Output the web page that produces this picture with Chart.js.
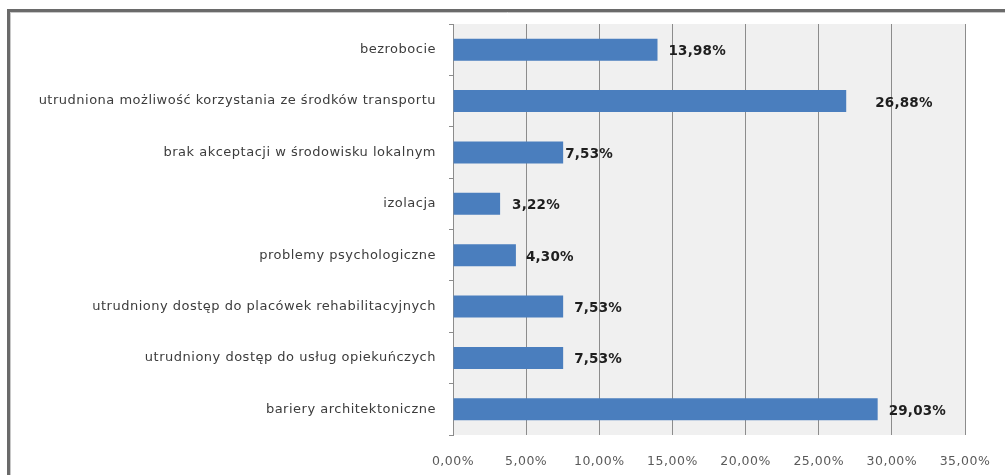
<!DOCTYPE html>
<html>
<head>
<meta charset="utf-8">
<script src="https://cdn.jsdelivr.net/npm/chart.js@4/dist/chart.umd.min.js"></script>
<style>
  html, body { margin: 0; padding: 0; background: #ffffff; }
  #wrap { width: 1005px; height: 475px; position: relative; }
</style>
</head>
<body>
<div id="wrap"><canvas id="c" width="1005" height="475"></canvas></div>
<script>
const categories = [
  "bezrobocie",
  "utrudniona możliwość korzystania ze środków transportu",
  "brak akceptacji w środowisku lokalnym",
  "izolacja",
  "problemy psychologiczne",
  "utrudniony dostęp do placówek rehabilitacyjnych",
  "utrudniony dostęp do usług opiekuńczych",
  "bariery architektoniczne"
];
const values = [13.98, 26.88, 7.53, 3.22, 4.30, 7.53, 7.53, 29.03];
const valueLabels = ["13,98%", "26,88%", "7,53%", "3,22%", "4,30%", "7,53%", "7,53%", "29,03%"];
const xTickLabels = ["0,00%", "5,00%", "10,00%", "15,00%", "20,00%", "25,00%", "30,00%", "35,00%"];
const xMin = 0, xMax = 35, xStep = 5;

const framePlugin = {
  id: 'frame',
  beforeDraw(chart) {
    const ctx = chart.ctx, a = chart.chartArea;
    ctx.save();
    ctx.fillStyle = '#f0f0f0';
    ctx.fillRect(a.left, a.top, a.right - a.left, a.bottom - a.top);
    ctx.restore();
    ctx.letterSpacing = '0.5px';
  },
  beforeDatasetsDraw(chart) {
    chart.ctx.letterSpacing = '0px';
  },
  afterDraw(chart) {
    const ctx = chart.ctx;
    ctx.save();
    ctx.strokeStyle = '#6a6a6a';
    ctx.lineWidth = 3;
    ctx.beginPath();
    ctx.moveTo(7, 10.5); ctx.lineTo(1005, 10.5);
    ctx.moveTo(8.5, 9); ctx.lineTo(8.5, 475);
    ctx.stroke();
    ctx.strokeStyle = '#c8c8c8';
    ctx.lineWidth = 1;
    ctx.beginPath();
    ctx.moveTo(10, 12.5); ctx.lineTo(1005, 12.5);
    ctx.moveTo(10.5, 12); ctx.lineTo(10.5, 475);
    ctx.stroke();
    ctx.restore();
  }
};

const valueLabelPlugin = {
  id: 'valueLabels',
  afterDatasetsDraw(chart, args, opts) {
    const ctx = chart.ctx;
    const meta = chart.getDatasetMeta(0);
    ctx.save();
    ctx.letterSpacing = '0.2px';
    ctx.font = 'bold 13.5px "DejaVu Sans"';
    ctx.fillStyle = '#1e1e1e';
    ctx.textAlign = 'left';
    ctx.textBaseline = 'middle';
    meta.data.forEach((el, i) => {
      const off = opts.offsets[i] !== undefined ? opts.offsets[i] : 10;
      ctx.fillText(valueLabels[i], el.x + off, el.y + 2);
    });
    ctx.restore();
  }
};

new Chart(document.getElementById('c'), {
  type: 'bar',
  data: {
    labels: categories,
    datasets: [{
      data: values,
      backgroundColor: '#4a7ebe',
      borderWidth: 0,
      barPercentage: 0.43,
      categoryPercentage: 1.0
    }]
  },
  options: {
    indexAxis: 'y',
    responsive: false,
    animation: false,
    devicePixelRatio: 1,
    layout: { padding: { top: 24, right: 40, left: 0, bottom: 0 } },
    plugins: {
      legend: { display: false },
      tooltip: { enabled: false },
      valueLabels: { offsets: [11, 29, 2, 12, 10, 11, 11, 11] }
    },
    scales: {
      x: {
        type: 'linear',
        min: xMin,
        max: xMax,
        afterFit(scale) { scale.height = 40; scale.paddingLeft = 0; scale.paddingRight = 0; },
        ticks: {
          stepSize: xStep,
          padding: 19,
          color: '#5a5a5a',
          font: { family: '"DejaVu Sans"', size: 12.5 },
          callback(v, i) { return xTickLabels[i]; }
        },
        grid: { color: '#8c8c8c', lineWidth: 1, drawTicks: false },
        border: { display: false }
      },
      y: {
        type: 'category',
        afterFit(scale) { scale.width = 453; },
        ticks: {
          padding: 13,
          color: '#3c3c3c',
          font: { family: '"DejaVu Sans"', size: 13 }
        },
        grid: { drawOnChartArea: false, tickLength: 4, color: '#8c8c8c', offset: true },
        border: { display: true, color: '#8c8c8c', width: 1 }
      }
    }
  },
  plugins: [framePlugin, valueLabelPlugin]
});
</script>
</body>
</html>
